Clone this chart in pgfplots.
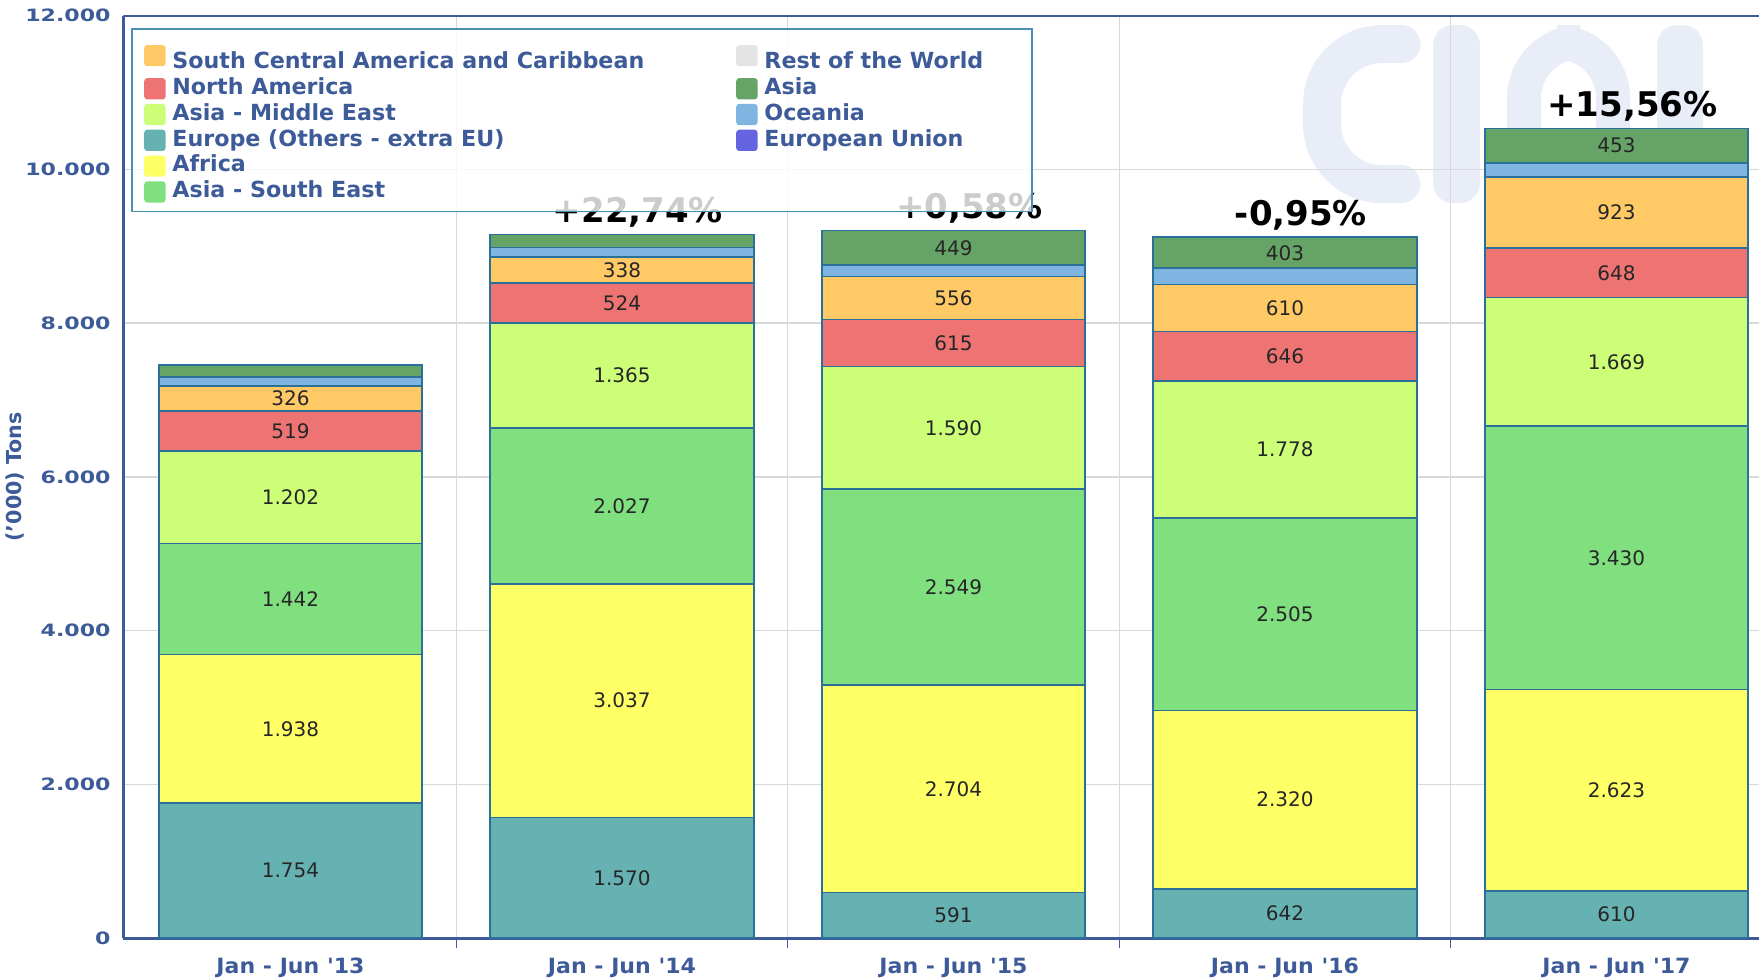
\documentclass[border=0pt]{standalone}
\usepackage{fontspec}
\setmainfont{DejaVu Sans}
\newfontfamily\ytfam{DejaVu Sans}[FakeStretch=1.3]
\newfontfamily\xtfam{DejaVu Sans}[FakeStretch=1.05]
\newfontfamily\legfam{DejaVu Sans}[FakeStretch=1.0]
\usepackage{pgfplots}
\usepackage{pgfplotstable}
\pgfplotsset{compat=1.18}

\newcommand\ytickfont{\ytfam\bfseries\fontsize{8.5}{10}\selectfont}
\newcommand\xtickfont{\xtfam\bfseries\fontsize{10.5}{12}\selectfont}
\newcommand\valfont{\fontsize{10}{12}\selectfont}
\newcommand\pctfont{\bfseries\fontsize{17}{20}\selectfont}
\newcommand\legfont{\legfam\bfseries\fontsize{11.1}{13}\selectfont}

\definecolor{axblue}{HTML}{3D5A99}
\definecolor{cEur}{HTML}{66B2B2}
\definecolor{cAfr}{HTML}{FFFF66}
\definecolor{cASE}{HTML}{80E080}
\definecolor{cAME}{HTML}{CCFF77}
\definecolor{cNA}{HTML}{EE7373}
\definecolor{cSCA}{HTML}{FFC966}
\definecolor{cOce}{HTML}{7FB5E0}
\definecolor{cAsia}{HTML}{66A366}
\definecolor{cEU}{HTML}{6464E0}
\definecolor{cRoW}{HTML}{E4E4E4}
\definecolor{barline}{HTML}{2A7099}
\definecolor{legline}{HTML}{4A90B0}
\definecolor{gridc}{HTML}{D9D9D9}
\definecolor{logoc}{HTML}{E9EDF8}

\pgfplotstableread{
x v lab
0 1754 1.754
1 1570 1.570
2 591 591
3 642 642
4 610 610
}\tEur
\pgfplotstableread{
x v lab
0 1938 1.938
1 3037 3.037
2 2704 2.704
3 2320 2.320
4 2623 2.623
}\tAfr
\pgfplotstableread{
x v lab
0 1442 1.442
1 2027 2.027
2 2549 2.549
3 2505 2.505
4 3430 3.430
}\tASE
\pgfplotstableread{
x v lab
0 1202 1.202
1 1365 1.365
2 1590 1.590
3 1778 1.778
4 1669 1.669
}\tAME
\pgfplotstableread{
x v lab
0 519 519
1 524 524
2 615 615
3 646 646
4 648 648
}\tNA
\pgfplotstableread{
x v lab
0 326 326
1 338 338
2 556 556
3 610 610
4 923 923
}\tSCA
\pgfplotstableread{
x v lab
0 115 {}
1 125 {}
2 150 {}
3 213 {}
4 179 {}
}\tOce
\pgfplotstableread{
x v lab
0 160 {}
1 165 {}
2 449 449
3 403 403
4 453 453
}\tAsia
\pgfplotstableread{
x v lab
0 1 {}
1 1 +22,74\%
2 1 +0,58\%
3 1 -0,95\%
4 1 +15,56\%
}\tPct

\pgfplotsset{
  seg/.style={fill=#1, draw=barline, line width=0.8pt,
    nodes near coords, point meta=explicit symbolic,
    every node near coord/.style={anchor=center, font=\valfont, text=black!85}},
}

\begin{document}
\begin{tikzpicture}
% faint logo watermark behind the chart
\begin{scope}[logoc]
\draw[line width=19pt, line cap=round, rounded corners=30pt]
  (639pt,447pt) -- (599.3pt,447pt) -- (599.3pt,377pt) -- (639pt,377pt);
\fill[rounded corners=10pt] (654.8pt,367.5pt) rectangle (678.3pt,456.5pt);
\draw[line width=17pt, rounded corners=28pt]
  (700.3pt,367.5pt) -- (700.3pt,448pt) -- (744.8pt,448pt) -- (744.8pt,367.5pt);
\fill[rounded corners=8pt] (713pt,367.5pt) rectangle (733pt,405pt);
\fill[rounded corners=10pt] (766.8pt,367.5pt) rectangle (789.8pt,456.5pt);
\end{scope}
\begin{axis}[
  at={(0,0)}, anchor=south west,
  scale only axis, width=817.8pt, height=461.2pt,
  xmin=-0.504, xmax=4.43, ymin=0, ymax=12000,
  ybar stacked, bar width=0.795,
  axis x line*=bottom, axis y line*=left,
  axis line style={-, axblue, line width=1.6pt},
  xtick={0,1,2,3,4},
  xticklabels={Jan - Jun '13,Jan - Jun '14,Jan - Jun '15,Jan - Jun '16,Jan - Jun '17},
  major x tick style={draw=none},
  minor xtick={0.5,1.5,2.5,3.5},
  minor x tick style={axblue, line width=0.6pt},
  minor tick length=5pt,
  tick align=outside,
  xminorgrids, minor x grid style={gridc, line width=0.7pt},
  ytick={0,2000,4000,6000,8000,10000,12000},
  yticklabels={0,2.000,4.000,6.000,8.000,10.000,12.000},
  ymajorgrids, major y grid style={gridc, line width=0.7pt},
  ytick style={draw=none},
  yticklabel style={font=\ytickfont, text=axblue, xshift=1.4pt},
  xticklabel style={font=\xtickfont, text=axblue, yshift=-2.3pt},
  ylabel={('000) Tons},
  ylabel style={at={(axis description cs:-0.0660,0.5)}, anchor=center, font=\bfseries\fontsize{10.3}{12}\selectfont, text=axblue},
  legend columns=2,
  legend image code/.code={\fill[#1, draw=none, fill opacity=1, rounded corners=1.5pt] (0pt,-5.3pt) rectangle (10.7pt,5.3pt);},
  legend style={at={(axis description cs:0.00465,0.9866)}, anchor=north west,
    draw=legline, line width=0.8pt, fill=white, fill opacity=0.8, text opacity=1,
    inner xsep=6.2pt, inner ysep=3.3pt, row sep=0pt,
    font=\legfont, text=axblue,
    nodes={inner xsep=0pt, inner ysep=1.1pt, text height=8.2pt, text depth=2.5pt},
    /tikz/row 1/.style={nodes={text height=15.5pt}},
    /tikz/every odd column/.append style={column sep=3.4pt}},
]
\addplot[seg=cEur, forget plot] table[x=x,y=v,meta=lab]{\tEur};
\addplot[seg=cAfr, forget plot] table[x=x,y=v,meta=lab]{\tAfr};
\addplot[seg=cASE, forget plot] table[x=x,y=v,meta=lab]{\tASE};
\addplot[seg=cAME, forget plot] table[x=x,y=v,meta=lab]{\tAME};
\addplot[seg=cNA, forget plot] table[x=x,y=v,meta=lab]{\tNA};
\addplot[seg=cSCA, forget plot] table[x=x,y=v,meta=lab]{\tSCA};
\addplot[seg=cOce, forget plot] table[x=x,y=v,meta=lab]{\tOce};
\addplot[seg=cAsia, forget plot] table[x=x,y=v,meta=lab]{\tAsia};
\addplot[draw=none, fill=none, forget plot, nodes near coords, point meta=explicit symbolic,
  every node near coord/.style={anchor=center, xshift=8pt, yshift=11pt, font=\pctfont, text=black}]
  table[x=x,y=v,meta=lab]{\tPct};

\addlegendimage{fill=cSCA}\addlegendentry{\makebox[281.9pt][l]{South Central America and Caribbean}}
\addlegendimage{fill=cRoW}\addlegendentry{\makebox[127.5pt][l]{Rest of the World}}
\addlegendimage{fill=cNA}\addlegendentry{\makebox[281.9pt][l]{North America}}
\addlegendimage{fill=cAsia}\addlegendentry{\makebox[127.5pt][l]{Asia}}
\addlegendimage{fill=cAME}\addlegendentry{\makebox[281.9pt][l]{Asia - Middle East}}
\addlegendimage{fill=cOce}\addlegendentry{\makebox[127.5pt][l]{Oceania}}
\addlegendimage{fill=cEur}\addlegendentry{\makebox[281.9pt][l]{Europe (Others - extra EU)}}
\addlegendimage{fill=cEU}\addlegendentry{\makebox[127.5pt][l]{European Union}}
\addlegendimage{fill=cAfr}\addlegendentry{\makebox[281.9pt][l]{Africa}}
\addlegendimage{empty legend}\addlegendentry{}
\addlegendimage{fill=cASE}\addlegendentry{\makebox[281.9pt][l]{Asia - South East}}
\addlegendimage{empty legend}\addlegendentry{}

\draw[axblue, line width=1.1pt] (rel axis cs:0,1) -- (rel axis cs:1,1);
\end{axis}
\pgfresetboundingbox
\path[use as bounding box] (-61.7pt,-20.5pt) rectangle (817.8pt,469.05pt);
\end{tikzpicture}
\end{document}
